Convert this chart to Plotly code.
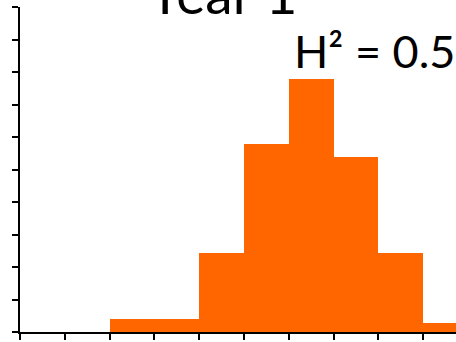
import plotly.graph_objects as go

# Histogram bins (left edge, right edge) and heights
bin_left = [2, 3, 4, 5, 6, 7, 8, 9]
bin_right = [3, 4, 5, 6, 7, 8, 9, 10]
heights = [0.41, 0.41, 2.42, 5.79, 7.80, 5.40, 2.44, 0.28]
title_text = "Year 1"
h2_text = "H² = 0.5"

centers = [(a + b) / 2 for a, b in zip(bin_left, bin_right)]
widths = [b - a for a, b in zip(bin_left, bin_right)]

fig = go.Figure(go.Bar(
    x=centers, y=heights, width=widths,
    marker=dict(color="#FF6600", line=dict(width=0)),
    showlegend=False,
))

axis_common = dict(
    showgrid=False, zeroline=False, showline=True, linecolor="black", linewidth=2,
    ticks="outside", ticklen=6, tickwidth=2, tickcolor="black",
    showticklabels=False, dtick=1, tick0=0,
)
fig.update_xaxes(range=[0, 436 / 44.8], **axis_common)
fig.update_yaxes(range=[0, 10], **axis_common)

fig.add_annotation(text=title_text, xref="paper", yref="paper",
                   x=0.4646, y=1.044, xanchor="center", yanchor="middle",
                   showarrow=False, font=dict(family="Lato", size=55, color="black"))
fig.add_annotation(text=h2_text, xref="paper", yref="paper",
                   x=1.002, y=0.866, xanchor="right", yanchor="middle",
                   showarrow=False, font=dict(family="Lato", size=45, color="black"))

fig.update_layout(
    width=456, height=342,
    margin=dict(l=20, r=0, t=7, b=10),
    paper_bgcolor="white", plot_bgcolor="white",
    bargap=0,
)
fig.write_html("out.html", config={"displayModeBar": False},
               post_script="document.body.style.margin='0';document.body.style.overflow='hidden';")
